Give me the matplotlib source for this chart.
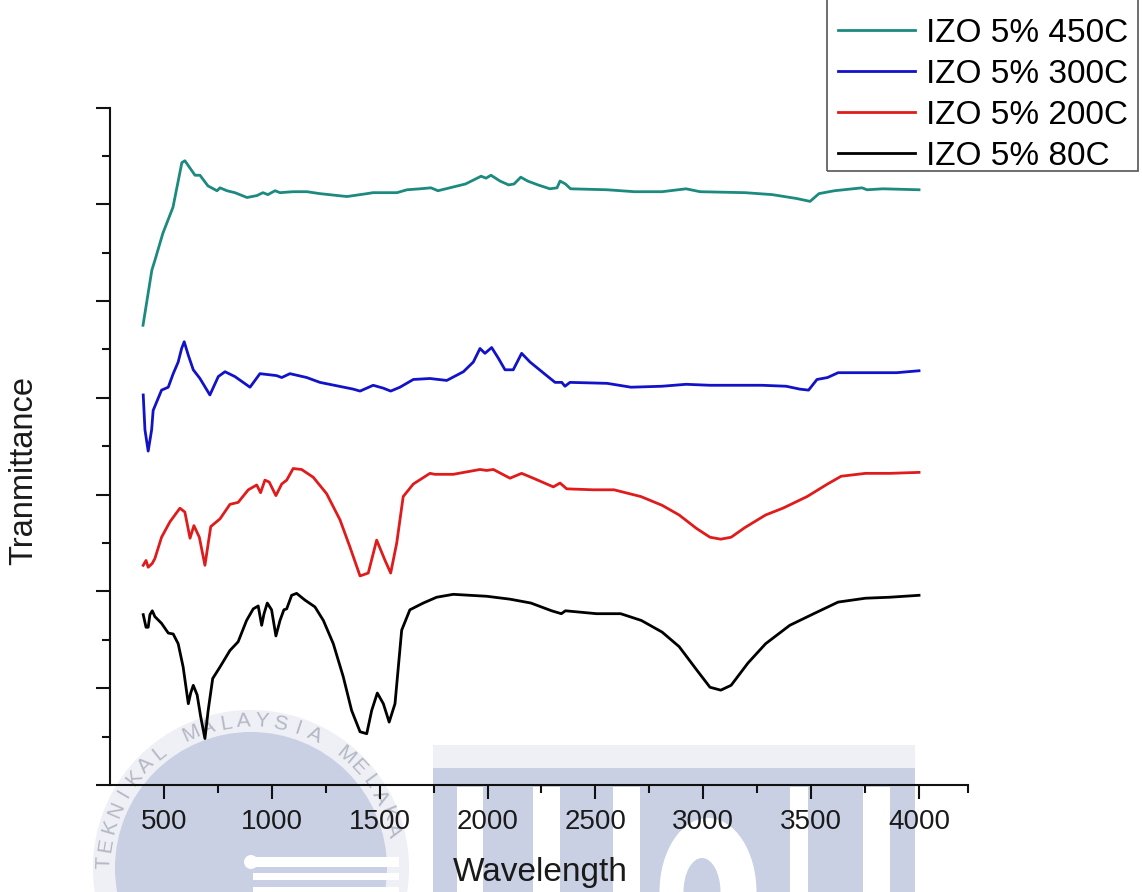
import numpy as np
import matplotlib
matplotlib.use("Agg")
import matplotlib.pyplot as plt
from matplotlib.ticker import MultipleLocator, FixedLocator, NullFormatter
from matplotlib.patches import Circle, Rectangle, Ellipse
from matplotlib.transforms import IdentityTransform

plt.rcParams['font.family'] = ['Liberation Sans', 'DejaVu Sans']

# FTIR spectra: (wavelength, transmittance in axis units)
izo_450 = [(403, 4.75), (444, 5.32), (458, 5.42), (495, 5.70), (542, 5.97), (583, 6.43),
           (597, 6.45), (644, 6.30), (667, 6.30), (704, 6.19), (746, 6.14), (760, 6.17),
           (792, 6.14), (829, 6.12), (885, 6.07), (931, 6.09), (959, 6.12), (982, 6.10),
           (1015, 6.14), (1038, 6.12), (1098, 6.13), (1163, 6.13), (1223, 6.11), (1348, 6.08),
           (1441, 6.11), (1469, 6.12), (1580, 6.12), (1627, 6.15), (1687, 6.16), (1738, 6.17),
           (1770, 6.14), (1898, 6.21), (1970, 6.29), (1993, 6.27), (2016, 6.30), (2058, 6.24),
           (2098, 6.20), (2123, 6.21), (2154, 6.28), (2186, 6.24), (2234, 6.20), (2289, 6.16),
           (2322, 6.17), (2336, 6.24), (2361, 6.21), (2385, 6.16), (2554, 6.15), (2681, 6.13),
           (2809, 6.13), (2920, 6.16), (2985, 6.13), (3193, 6.12), (3319, 6.10), (3432, 6.06),
           (3495, 6.03), (3536, 6.11), (3608, 6.14), (3736, 6.17), (3759, 6.15), (3833, 6.16),
           (4000, 6.15)]

izo_300 = [(404, 4.03), (412, 3.67), (427, 3.45), (443, 3.67), (450, 3.87), (489, 4.08),
           (520, 4.11), (543, 4.25), (566, 4.37), (582, 4.51), (594, 4.58), (613, 4.44),
           (636, 4.29), (667, 4.20), (713, 4.03), (752, 4.22), (783, 4.27), (829, 4.22),
           (899, 4.11), (945, 4.25), (1022, 4.23), (1046, 4.21), (1084, 4.25), (1162, 4.21),
           (1223, 4.16), (1378, 4.09), (1409, 4.07), (1470, 4.13), (1517, 4.10), (1551, 4.07),
           (1594, 4.11), (1656, 4.19), (1733, 4.20), (1811, 4.18), (1888, 4.27), (1934, 4.37),
           (1965, 4.51), (1988, 4.46), (2019, 4.52), (2050, 4.41), (2081, 4.29), (2119, 4.29),
           (2158, 4.46), (2197, 4.37), (2274, 4.23), (2313, 4.16), (2344, 4.16), (2359, 4.12),
           (2382, 4.16), (2554, 4.15), (2665, 4.11), (2809, 4.12), (2920, 4.14), (3031, 4.13),
           (3272, 4.13), (3384, 4.12), (3448, 4.09), (3488, 4.08), (3527, 4.19), (3576, 4.21),
           (3625, 4.26), (3768, 4.26), (3896, 4.26), (4000, 4.28)]

izo_200 = [(404, 2.27), (417, 2.32), (427, 2.25), (446, 2.29), (458, 2.34), (489, 2.56),
           (528, 2.72), (574, 2.86), (597, 2.82), (621, 2.55), (639, 2.68), (664, 2.56),
           (690, 2.27), (717, 2.67), (760, 2.75), (806, 2.90), (844, 2.92), (891, 3.05),
           (930, 3.10), (948, 3.02), (968, 3.15), (988, 3.13), (1019, 2.99), (1046, 3.11),
           (1069, 3.15), (1099, 3.27), (1138, 3.26), (1192, 3.18), (1254, 3.01), (1316, 2.74),
           (1362, 2.46), (1409, 2.16), (1447, 2.19), (1486, 2.53), (1525, 2.32), (1551, 2.19),
           (1579, 2.50), (1609, 2.98), (1656, 3.11), (1733, 3.22), (1756, 3.21), (1841, 3.21),
           (1965, 3.26), (1996, 3.25), (2027, 3.26), (2104, 3.17), (2158, 3.22), (2212, 3.17),
           (2305, 3.08), (2336, 3.12), (2367, 3.06), (2489, 3.05), (2586, 3.05), (2711, 2.98),
           (2809, 2.89), (2888, 2.79), (2969, 2.65), (3031, 2.56), (3081, 2.54), (3129, 2.56),
           (3193, 2.66), (3289, 2.79), (3369, 2.86), (3481, 2.98), (3576, 3.11), (3639, 3.19),
           (3752, 3.22), (3864, 3.22), (4000, 3.23)]

izo_80 = [(404, 1.76), (417, 1.63), (427, 1.63), (435, 1.76), (446, 1.80), (458, 1.74),
          (489, 1.67), (520, 1.57), (543, 1.56), (566, 1.46), (589, 1.22), (613, 0.84),
          (624, 0.95), (636, 1.03), (654, 0.93), (670, 0.71), (690, 0.48), (705, 0.77),
          (726, 1.10), (760, 1.22), (806, 1.39), (844, 1.48), (883, 1.70), (914, 1.82),
          (937, 1.85), (953, 1.65), (964, 1.77), (979, 1.88), (999, 1.81), (1019, 1.54),
          (1038, 1.70), (1056, 1.81), (1069, 1.82), (1092, 1.96), (1115, 1.98), (1154, 1.91),
          (1200, 1.84), (1239, 1.70), (1285, 1.46), (1331, 1.12), (1370, 0.77), (1409, 0.55),
          (1440, 0.53), (1463, 0.77), (1489, 0.95), (1517, 0.84), (1544, 0.65), (1571, 0.84),
          (1602, 1.60), (1640, 1.81), (1702, 1.88), (1764, 1.94), (1841, 1.97), (1996, 1.95),
          (2104, 1.92), (2201, 1.88), (2297, 1.80), (2342, 1.77), (2361, 1.80), (2505, 1.77),
          (2617, 1.77), (2713, 1.70), (2809, 1.58), (2888, 1.43), (2969, 1.19), (3031, 1.01),
          (3081, 0.98), (3129, 1.03), (3207, 1.26), (3289, 1.46), (3401, 1.65), (3512, 1.77),
          (3625, 1.89), (3752, 1.93), (3864, 1.94), (4000, 1.96)]

series = [izo_80, izo_200, izo_300, izo_450]
labels = ['IZO 5% 80C', 'IZO 5% 200C', 'IZO 5% 300C', 'IZO 5% 450C']
colors = ['#000000', '#e01b1b', '#1212c8', '#1c8a7f']
xticks = [500, 1000, 1500, 2000, 2500, 3000, 3500, 4000]
x_min, x_max = 250, 4227

W, H = 1142, 892
fig = plt.figure(figsize=(W / 100, H / 100), dpi=100)


def px(x, y):
    # watermark helper: image pixel (from top-left) -> display coords
    return (x, H - y)


# --- faint university watermark behind the plot ---
pix = IdentityTransform()
wm_blue = '#c9d0e4'
wm_light = '#eef0f5'
fig.add_artist(Circle(px(251, 868), 158, transform=pix, color=wm_light, zorder=-3, lw=0))
fig.add_artist(Circle(px(251, 868), 136, transform=pix, color=wm_blue, zorder=-2, lw=0))
for y0, y1 in [(857, 867), (873, 880), (887, 892)]:
    fig.add_artist(Rectangle(px(253, y1), 146, y1 - y0, transform=pix, color='white', zorder=-1, lw=0))
fig.add_artist(Circle(px(251, 862), 7, transform=pix, color='white', zorder=-1, lw=0))
ring = "TEKNIKAL MALAYSIA MELAKA"
for i, ch in enumerate(ring):
    a = np.deg2rad(178 - i * 7.1)
    cx, cy = px(251, 868)
    fig.text((cx + 147 * np.cos(a)) / W, (cy + 147 * np.sin(a)) / H, ch,
             rotation=np.rad2deg(a) - 90, ha='center', va='center',
             fontsize=15, color='#b4b8c4', zorder=-1)

fig.add_artist(Rectangle(px(433, 768), 482, 23, transform=pix, color=wm_light, zorder=-3, lw=0))
fig.add_artist(Rectangle(px(433, 892), 482, 124, transform=pix, color=wm_blue, zorder=-3, lw=0))
for x0, x1 in [(457, 483), (533, 560), (613, 640), (790, 808), (863, 890)]:
    fig.add_artist(Rectangle(px(x0, 892), x1 - x0, 892 - 787, transform=pix, color='white', zorder=-2, lw=0))
fig.add_artist(Ellipse(px(708, 892), 97, 148, transform=pix, color='white', zorder=-2, lw=0))
fig.add_artist(Ellipse(px(702, 892), 37, 68, transform=pix, color=wm_blue, zorder=-1, lw=0))

# --- the chart ---
ax = fig.add_axes([110 / W, 1 - 785 / H, 858 / W, 677.5 / H])
ax.set_facecolor('none')

lines = {}
for data, lab, col in zip(series, labels, colors):
    w = [p[0] for p in data]
    t = [p[1] for p in data]
    lines[lab], = ax.plot(w, t, color=col, lw=2.0, label=lab)

ax.set_xlim(x_min, x_max)
ax.set_ylim(0, 7)
ax.set_xticks(xticks)
ax.xaxis.set_minor_locator(FixedLocator(list(range(750, 4001, 500)) + [x_max]))
ax.yaxis.set_major_locator(MultipleLocator(1))
ax.yaxis.set_minor_locator(MultipleLocator(0.5))
ax.yaxis.set_major_formatter(NullFormatter())

for s in ['top', 'right']:
    ax.spines[s].set_visible(False)
for s in ['left', 'bottom']:
    ax.spines[s].set_linewidth(1.5)
    ax.spines[s].set_color('#111111')

ax.tick_params(which='major', direction='out', length=10, width=1.5, color='#111111',
               labelsize=20, pad=7, labelcolor='#1a1a1a')
ax.tick_params(which='minor', direction='out', length=6, width=1.5, color='#111111')

ax.set_xlabel('Wavelength', fontsize=24, color='#1a1a1a')
ax.set_ylabel('Tranmittance', fontsize=23.5, color='#1a1a1a')
ax.xaxis.set_label_coords(0.502, -0.106)
ax.yaxis.set_label_coords(-0.083, 0.464)

# legend: frame drawn separately so its top runs off the image like the original
order = ['IZO 5% 450C', 'IZO 5% 300C', 'IZO 5% 200C', 'IZO 5% 80C']
leg = ax.legend([lines[k] for k in order], order, loc='lower left',
                bbox_to_anchor=(838 / W, 1 - 172 / H), bbox_transform=fig.transFigure,
                borderaxespad=0, borderpad=0, fontsize=24, handlelength=2.3,
                handletextpad=0.33, labelspacing=0.3, frameon=False)
fig.add_artist(Rectangle(px(827, 171), 311, 180, transform=pix, fill=False,
                         edgecolor='#555555', lw=1.2, zorder=5))

fig.savefig('out.png', dpi=100)
